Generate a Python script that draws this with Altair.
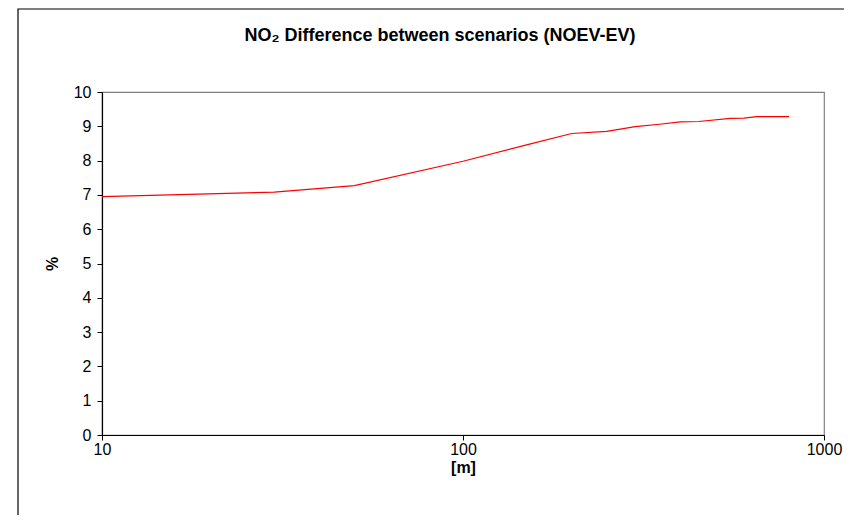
import altair as alt
import pandas as pd

distance_m = [10, 30, 50, 100, 150, 200, 250, 300, 350, 400, 450, 550, 600, 650, 800]
diff_pct = [6.95, 7.08, 7.27, 7.98, 8.46, 8.79, 8.85, 8.99, 9.06, 9.13, 9.14, 9.23, 9.24, 9.28, 9.28]
x_ticks = [10, 100, 1000]
y_ticks = list(range(0, 11))
title_text = ["NO₂ Difference between scenarios (NOEV-EV)"]

df = pd.DataFrame({"distance": distance_m, "diff": diff_pct})

W, H = 722, 343
FONT = "Liberation Sans"

line = alt.Chart(df).mark_line(color="#FF0000", strokeWidth=1.2, clip=True).encode(
    x=alt.X("distance:Q",
            scale=alt.Scale(type="log", domain=[10, 1000], nice=False),
            axis=alt.Axis(values=x_ticks, format="d", title="[m]",
                          tickSize=5, labelPadding=1, titlePadding=2,
                          labelFlush=False, labelOverlap=False,
                          domainColor="black", tickColor="black",
                          grid=False)),
    y=alt.Y("diff:Q",
            scale=alt.Scale(domain=[0, 10], nice=False),
            axis=alt.Axis(values=y_ticks, title="%", tickSize=5, labelPadding=6,
                          titlePadding=13, domainColor="black", tickColor="black",
                          labelFlush=False, labelOverlap=False,
                          grid=False)),
)

frame = alt.Chart(alt.Data(values=[{}])).mark_rect(
    fill=None, stroke="black", strokeWidth=1.2
).encode(
    x=alt.value(-84), x2=alt.value(900), y=alt.value(-83), y2=alt.value(700)
)

title = alt.Chart(alt.Data(values=[{"t": t} for t in title_text])).mark_text(
    font=FONT, fontSize=18, fontWeight="bold", color="black",
    align="center", baseline="alphabetic"
).encode(
    text="t:N", x=alt.value(338), y=alt.value(-51)
)

chart = alt.layer(frame, line, title).properties(
    width=W, height=H,
    autosize=alt.AutoSizeParams(type="none"),
    padding={"left": 94, "top": 84, "right": 20, "bottom": 80},
).configure_view(
    stroke="#808080", strokeWidth=1.2
).configure_axis(
    labelFont=FONT, titleFont=FONT, labelFontSize=16, titleFontSize=16,
    labelColor="black", titleColor="black", titleFontWeight="bold",
    domainWidth=1.2, tickWidth=1
)

chart.save("out.html", embed_options={"renderer": "svg", "actions": False})
